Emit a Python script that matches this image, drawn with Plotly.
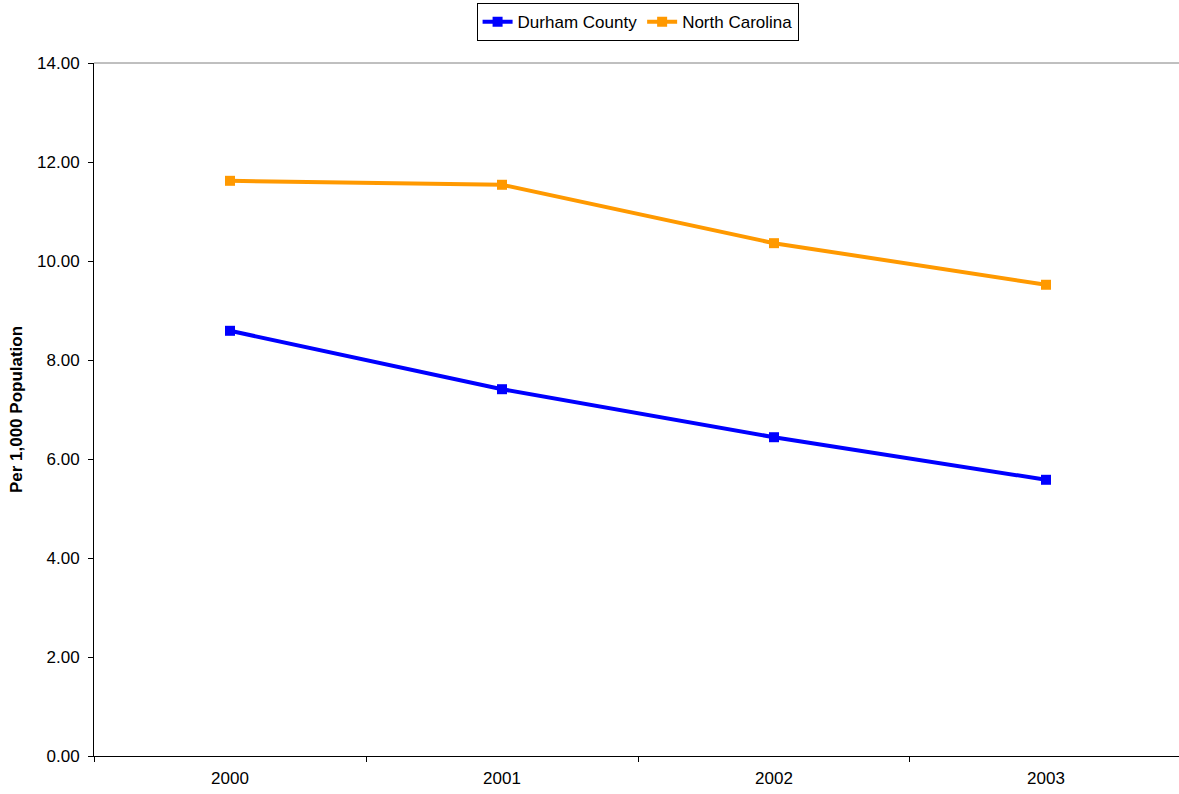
import plotly.graph_objects as go

years = ["2000", "2001", "2002", "2003"]
durham = [8.59, 7.41, 6.44, 5.58]
nc = [11.62, 11.54, 10.36, 9.52]
y_ticks = [0, 2, 4, 6, 8, 10, 12, 14]

fig = go.Figure()
fig.add_trace(go.Scatter(x=years, y=durham, name="Durham County", mode="lines+markers",
                         line=dict(color="#0000FF", width=4),
                         marker=dict(symbol="square", size=10, color="#0000FF")))
fig.add_trace(go.Scatter(x=years, y=nc, name="North Carolina", mode="lines+markers",
                         line=dict(color="#FF9900", width=4),
                         marker=dict(symbol="square", size=10, color="#FF9900")))

fig.update_layout(
    width=1179, height=794,
    margin=dict(l=94, r=0, t=63, b=38, pad=0),
    paper_bgcolor="white", plot_bgcolor="white",
    font=dict(family="Liberation Sans, Arial, sans-serif", size=17, color="black"),
    showlegend=True,
    legend=dict(orientation="h", x=0.501, xanchor="center", y=0.996, yref="container",
                yanchor="top", bordercolor="black", borderwidth=1, bgcolor="white",
                font=dict(size=17), itemwidth=30, tracegroupgap=0),
)
fig.update_xaxes(type="category", range=[-0.5, 3.489], showline=True, linecolor="black",
                 linewidth=1, ticks="outside", tickson="boundaries", ticklen=5,
                 tickcolor="black", showgrid=False, zeroline=False, automargin=False,
                 ticklabelstandoff=7, tickfont=dict(size=17))
fig.update_yaxes(range=[0, 14], tickvals=y_ticks,
                 ticktext=[f"{v:.2f}" for v in y_ticks],
                 showline=True, linecolor="black", linewidth=1, ticks="outside",
                 ticklen=5, tickcolor="black", showgrid=False, zeroline=False,
                 automargin=False, ticklabelstandoff=5, tickfont=dict(size=17),
                 title=dict(text="<b>Per 1,000 Population</b>", font=dict(size=17), standoff=10))
fig.add_shape(type="line", xref="paper", yref="y domain", x0=0, x1=1, y0=1, y1=1,
              line=dict(color="#808080", width=1))

fig.write_html("out.html", config={"displayModeBar": False},
               post_script="document.body.style.margin='0';document.body.style.overflow='hidden';")
